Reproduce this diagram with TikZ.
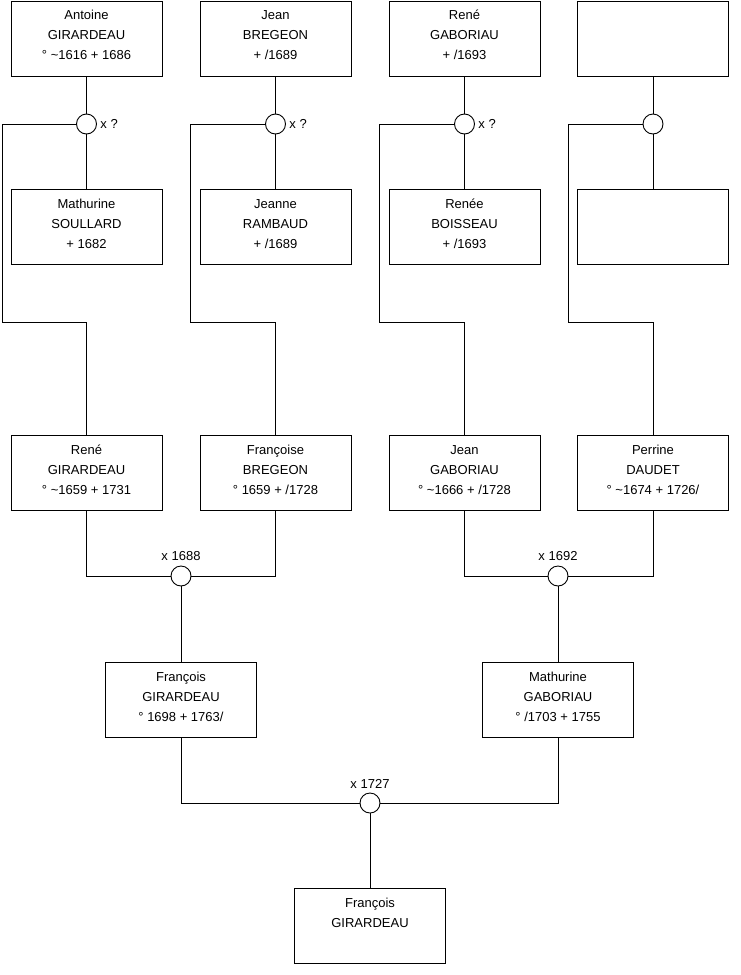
\documentclass[tikz,border=0pt]{standalone}
\usepackage{fontspec}
\setmainfont{Liberation Sans}
\begin{document}
\begin{tikzpicture}[x=1pt,y=-1pt,
  line width=0.9pt,
  every node/.style={font=\fontsize{13}{20}\selectfont},
  person/.style={draw, fill=white, minimum width=151pt, minimum height=75pt, inner sep=0pt},
  ptext/.style={align=center, inner sep=0pt},
  union/.style={draw, circle, fill=white, minimum size=20pt, inner sep=0pt},
  ulabel/.style={inner sep=0pt}
]
\useasboundingbox[fill=white] (0,0) rectangle (740,975);

% row 1
\node[person] (a1) at (86.5,38.5) {};
\node[person] (a2) at (275.5,38.5) {};
\node[person] (a3) at (464.5,38.5) {};
\node[person] (a4) at (653,38.5) {};
% row 2
\node[person] (b1) at (86.5,227) {};
\node[person] (b2) at (275.5,227) {};
\node[person] (b3) at (464.5,227) {};
\node[person] (b4) at (653,227) {};
% row 3
\node[person] (p1) at (86.5,472.5) {};
\node[person] (p2) at (275.5,472.5) {};
\node[person] (p3) at (464.5,472.5) {};
\node[person] (p4) at (653,472.5) {};
% row 4
\node[person] (q1) at (181,699.5) {};
\node[person] (q2) at (558,699.5) {};
% row 5
\node[person] (r1) at (370,925.5) {};

% texts
\node[ptext] (ta1) at (86.5,35.5) {\strut Antoine\\GIRARDEAU\\° \char"007E{}1616 + 1686\strut};
\node[ptext] (ta2) at (275.5,35.5) {\strut Jean\\BREGEON\\+ /1689\strut};
\node[ptext] (ta3) at (464.5,35.5) {\strut René\\GABORIAU\\+ /1693\strut};
\node[ptext] (tb1) at (86.5,224.5) {\strut Mathurine\\SOULLARD\\+ 1682\strut};
\node[ptext] (tb2) at (275.5,224.5) {\strut Jeanne\\RAMBAUD\\+ /1689\strut};
\node[ptext] (tb3) at (464.5,224.5) {\strut Renée\\BOISSEAU\\+ /1693\strut};
\node[ptext] (tp1) at (86.5,470) {\strut René\\GIRARDEAU\\° \char"007E{}1659 + 1731\strut};
\node[ptext] (tp2) at (275.5,470) {\strut Françoise\\BREGEON\\° 1659 + /1728\strut};
\node[ptext] (tp3) at (464.5,470) {\strut Jean\\GABORIAU\\° \char"007E{}1666 + /1728\strut};
\node[ptext] (tp4) at (653,470) {\strut Perrine\\DAUDET\\° \char"007E{}1674 + 1726/\strut};
\node[ptext] (tq1) at (181,697) {\strut François\\GIRARDEAU\\° 1698 + 1763/\strut};
\node[ptext] (tq2) at (558,697) {\strut Mathurine\\GABORIAU\\° /1703 + 1755\strut};
\node[ptext] (tr1) at (370,923) {\strut François\\GIRARDEAU\\\strut};

% union circles
\node[union] (u1) at (86.5,124) {};
\node[union] (u2) at (275.5,124) {};
\node[union] (u3) at (464.5,124) {};
\node[union] (u4) at (653,124) {};
\node[union] (m1) at (181,576) {};
\node[union] (m2) at (558,576) {};
\node[union] (m3) at (370,803) {};

% union labels
\node[ulabel, anchor=west] (lu1) at ([xshift=3pt]u1.east) {x ?};
\node[ulabel, anchor=west] (lu2) at ([xshift=3pt]u2.east) {x ?};
\node[ulabel, anchor=west] (lu3) at ([xshift=3pt]u3.east) {x ?};
\node[ulabel, anchor=south] (lm1) at ([yshift=4pt]m1.north) {x 1688};
\node[ulabel, anchor=south] (lm2) at ([yshift=4pt]m2.north) {x 1692};
\node[ulabel, anchor=south] (lm3) at ([yshift=4pt]m3.north) {x 1727};

% corner coordinates
\coordinate (k1a) at (2,124);   \coordinate (k1b) at (2,322);   \coordinate (k1c) at (86.5,322);
\coordinate (k2a) at (190,124); \coordinate (k2b) at (190,322); \coordinate (k2c) at (275.5,322);
\coordinate (k3a) at (379,124); \coordinate (k3b) at (379,322); \coordinate (k3c) at (464.5,322);
\coordinate (k4a) at (568,124); \coordinate (k4b) at (568,322); \coordinate (k4c) at (653,322);

% connectors top
\foreach \i in {1,2,3,4}{
  \draw (a\i.south) -- (u\i.north);
  \draw (u\i.south) -- (b\i.north);
  \draw (u\i.west) -- (k\i a) -- (k\i b) -- (k\i c) -- (p\i.north);
}
% marriages
\draw (p1.south) |- (m1.west);
\draw (p2.south) |- (m1.east);
\draw (m1.south) -- (q1.north);
\draw (p3.south) |- (m2.west);
\draw (p4.south) |- (m2.east);
\draw (m2.south) -- (q2.north);
\draw (q1.south) |- (m3.west);
\draw (q2.south) |- (m3.east);
\draw (m3.south) -- (r1.north);
\end{tikzpicture}
\end{document}
